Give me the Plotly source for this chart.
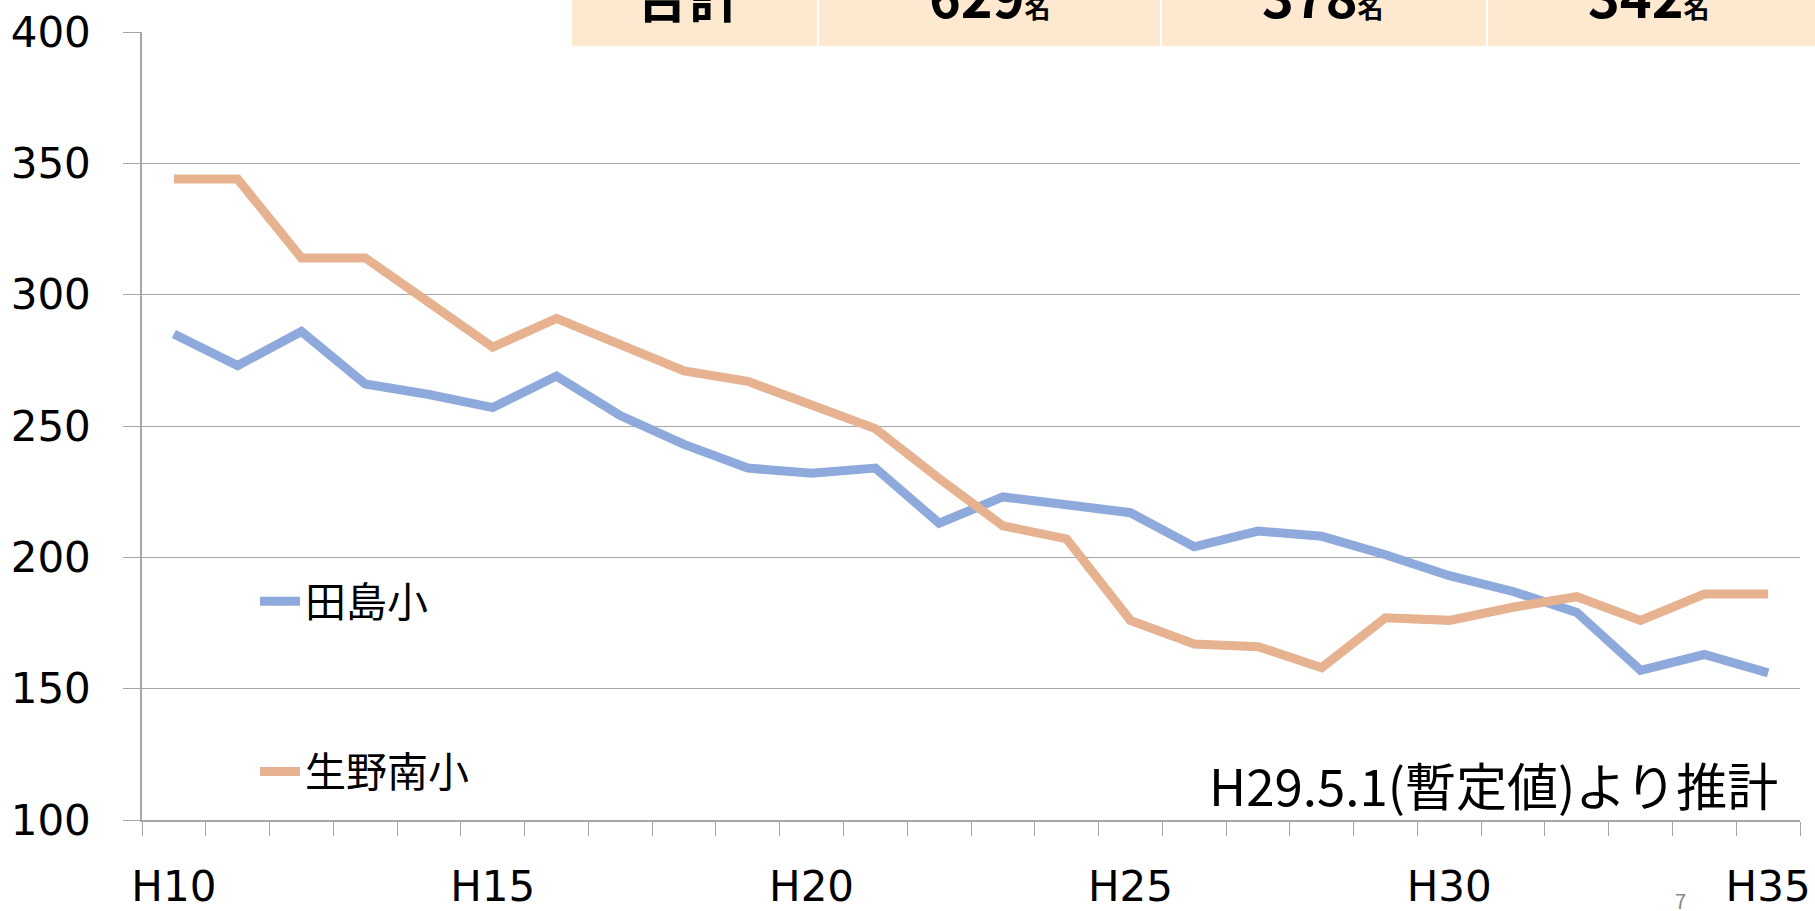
import plotly.graph_objects as go

years = ["H%d" % y for y in range(10, 36)]
tajima = [285, 273, 286, 266, 262, 257, 269, 254, 243, 234, 232, 234, 213, 223, 220, 217,
          204, 210, 208, 201, 193, 187, 179, 157, 163, 156]
ikuno_minami = [344, 344, 314, 314, 297, 280, 291, 281, 271, 267, 258, 249, 230, 212, 207, 176,
                167, 166, 158, 177, 176, 181, 185, 176, 186, 186]
series_names = ["田島小", "生野南小"]
label_years = ["H10", "H15", "H20", "H25", "H30", "H35"]
table_texts = ["合計", "629", "378", "342"]
table_unit = "名"
note_text = "H29.5.1(暫定値)より推計"

xi = list(range(len(years)))
tickvals = [years.index(y) for y in label_years]

BLUE = "#8EA9DB"
ORANGE = "#E6B28F"
GRID = "#A6A6A6"
FONT = "DejaVu Sans, sans-serif"
CJK = "Noto Sans CJK JP, sans-serif"

fig = go.Figure()
fig.add_trace(go.Scatter(x=xi, y=tajima, mode="lines", name=series_names[0],
                         line=dict(color=BLUE, width=9), legendgroup="a"))
fig.add_trace(go.Scatter(x=xi, y=ikuno_minami, mode="lines", name=series_names[1],
                         line=dict(color=ORANGE, width=9), legendgroup="b"))

W, H = 1815, 911
L, R, T, B = 142, 15, 32, 91
PW, PH = W - L - R, H - T - B

fig.update_layout(
    width=W, height=H,
    margin=dict(l=L, r=R, t=T, b=B, autoexpand=False),
    paper_bgcolor="white", plot_bgcolor="white",
    showlegend=True,
    legend=dict(x=(255 - L) / PW, y=1 - (568 - T) / PH,
                xanchor="left", yanchor="top",
                font=dict(family=CJK, size=41, color="black"),
                tracegroupgap=114, bgcolor="rgba(0,0,0,0)", itemwidth=40),
    xaxis=dict(range=[-0.5, len(years) - 0.5], tickvals=tickvals, ticktext=label_years,
               ticks="outside", ticklen=0, showgrid=False, zeroline=False,
               showline=True, linecolor=GRID, linewidth=1.5, automargin=False,
               tickfont=dict(family=FONT, size=42, color="black"),
               ticklabelstandoff=29,
               minor=dict(ticks="outside", ticklen=14, tickcolor=GRID, tickwidth=1,
                          tick0=-0.5, dtick=1, showgrid=False)),
    yaxis=dict(range=[100, 400], dtick=50, tick0=100, showgrid=True, gridcolor=GRID,
               gridwidth=1, zeroline=False, showline=True, linecolor=GRID, linewidth=1.5,
               ticks="outside", ticklen=17, tickcolor=GRID, automargin=False,
               tickfont=dict(family=FONT, size=42, color="black"),
               ticklabelstandoff=24),
)

# top table fragment (cut off at page top)
edges = [572, 817, 1160, 1486, W]
centers = [689, 990, 1323, 1649]
for i in range(4):
    fig.add_shape(type="rect", xref="paper", yref="paper",
                  x0=(edges[i] + (2 if i else 0) - L) / PW, x1=(edges[i + 1] - L) / PW,
                  y0=1 + (T - 46) / PH, y1=1 + T / PH + 0.05,
                  fillcolor="#FDE9D0", line=dict(width=0), layer="above")
    if i == 0:
        txt = "<b>%s</b>" % table_texts[i]
    else:
        txt = "<b>%s</b><span style='font-size:26px'><b>%s</b></span>" % (table_texts[i], table_unit)
    fig.add_annotation(xref="paper", yref="paper",
                       x=(centers[i] - L) / PW, y=1 + (T - 36) / PH,
                       xanchor="center", yanchor="bottom", showarrow=False,
                       text=txt, font=dict(family=CJK, size=54, color="black"))

fig.add_annotation(xref="paper", yref="paper", x=(1780 - L) / PW, y=(820 - 784) / PH,
                   xanchor="right", yanchor="middle", showarrow=False, text=note_text,
                   font=dict(family=CJK, size=51, color="black"))
fig.add_annotation(xref="paper", yref="paper", x=(1680 - L) / PW, y=-(900 - 820) / PH,
                   xanchor="center", yanchor="middle", showarrow=False, text="7",
                   font=dict(family=CJK, size=20, color="#888888"))

fig.write_html("out.html", config={"displayModeBar": False},
               post_script="document.body.style.margin='0';")
